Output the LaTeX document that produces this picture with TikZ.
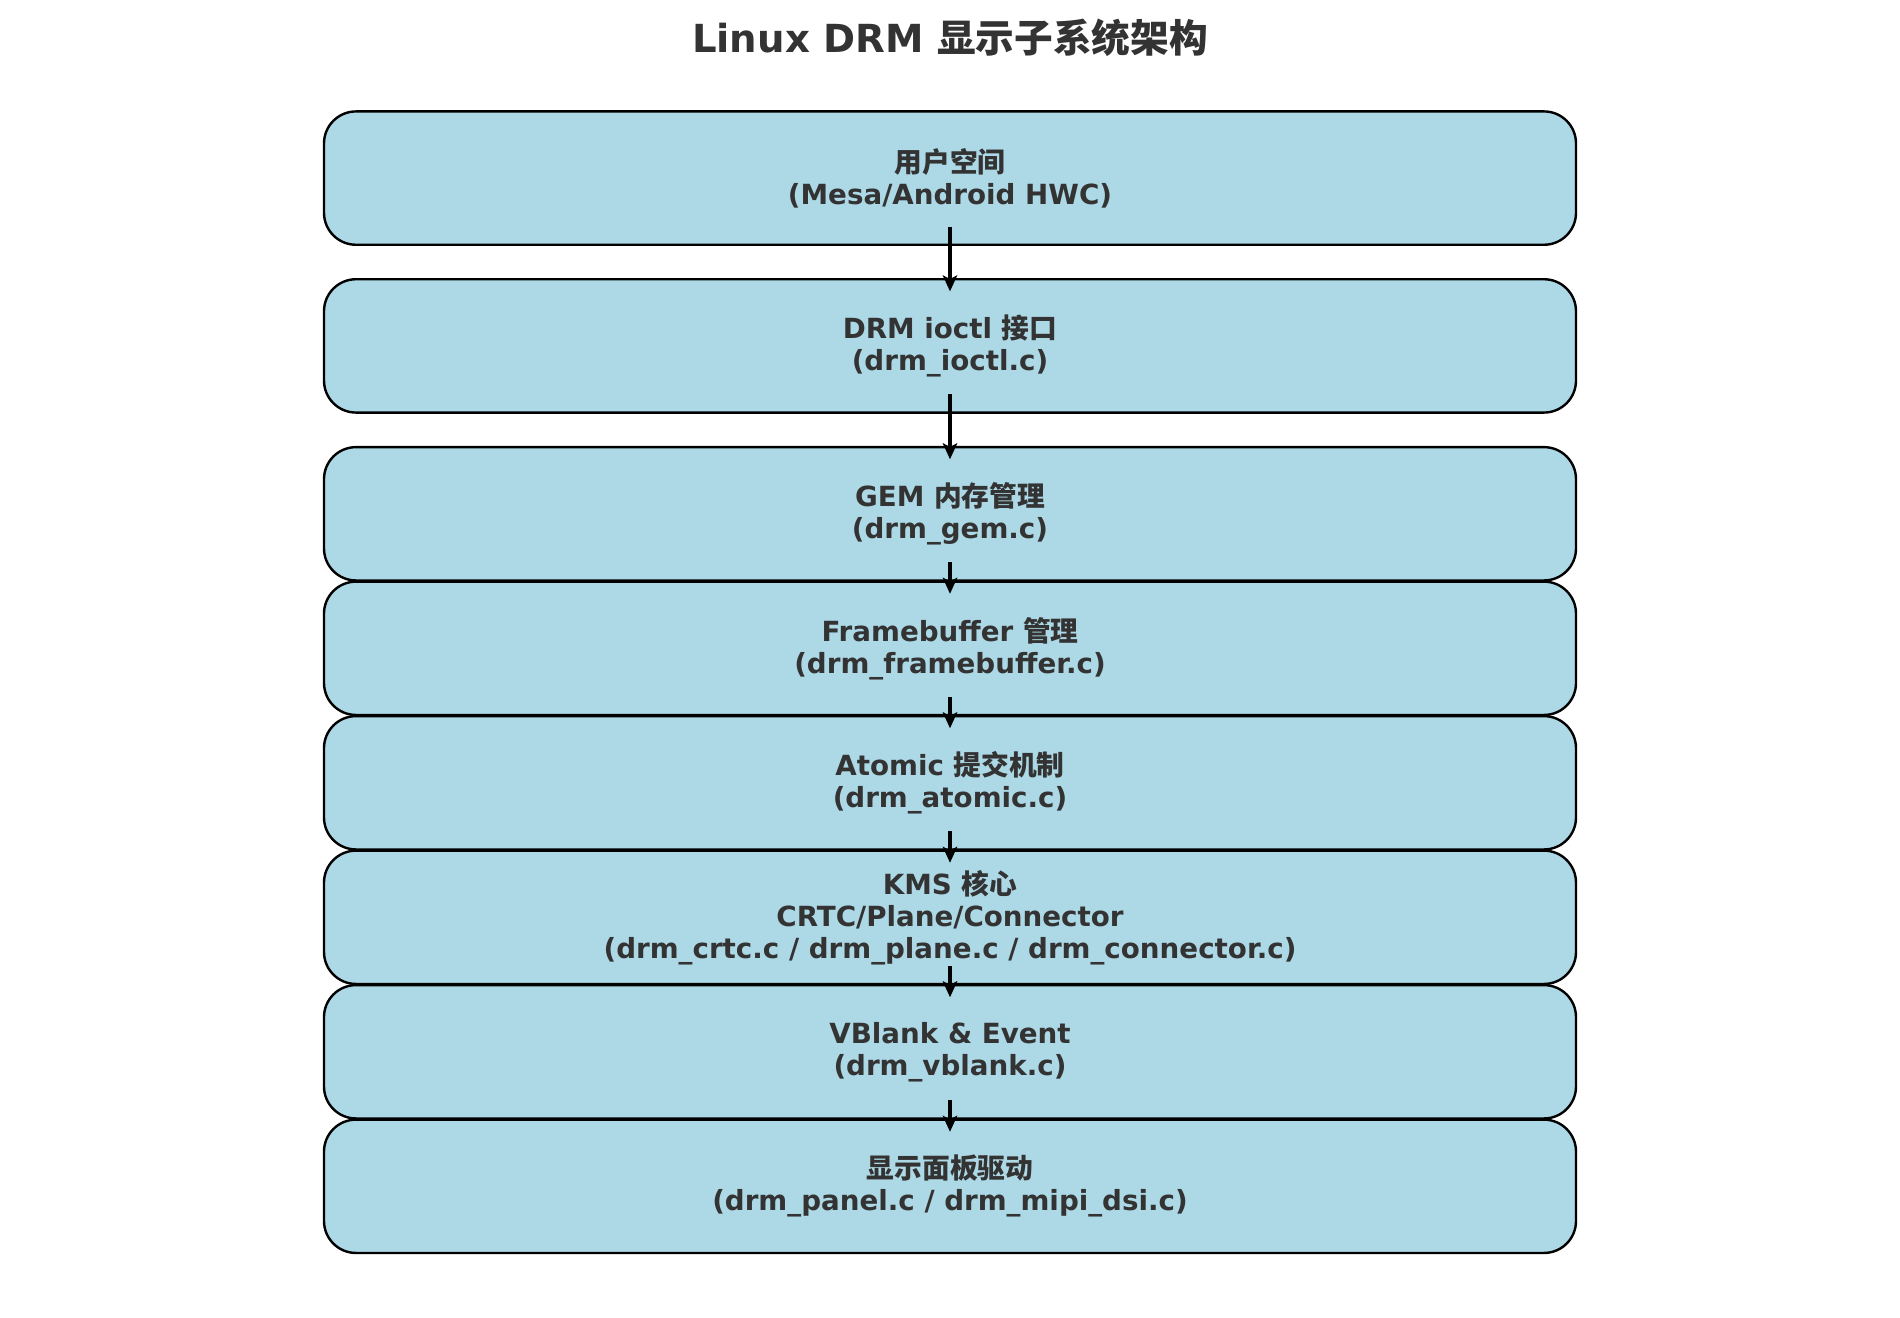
\documentclass[tikz,border=0pt]{standalone}
\usepackage{fontspec}
\setmainfont{DejaVu Sans}
\newfontfamily\cjk{Noto Sans CJK SC}
\usetikzlibrary{arrows.meta}
\definecolor{boxfill}{HTML}{ADD8E6}
\definecolor{txt}{HTML}{333333}
\newcommand{\zh}[1]{{\cjk\bfseries #1}}
\begin{document}
\begin{tikzpicture}[x=0.375pt,y=-0.375pt,
  layer/.style={draw=black, line width=0.9pt, fill=boxfill, rounded corners=12pt,
    minimum width=469.5pt, minimum height=50pt, align=center, text=txt,
    font=\bfseries\fontsize{10.4}{12}\selectfont, inner sep=0pt},
  flow/.style={-{Stealth[length=6pt,width=5.4pt,inset=1.4pt]}, line width=1.4pt, draw=black}]
\useasboundingbox (0,0) rectangle (1900,1318);
\node[font=\bfseries\fontsize{14.5}{17}\selectfont, text=txt] (title) at (950,37.6) {Linux DRM \zh{显示子系统架构}};
\node[layer] (b1) at (950,178.1) {\zh{用户空间}\\(Mesa/Android HWC)};
\node[layer] (b2) at (950,345.9) {DRM ioctl \zh{接口}\\(drm\_ioctl.c)};
\node[layer] (b3) at (950,513.8) {GEM \zh{内存管理}\\(drm\_gem.c)};
\node[layer] (b4) at (950,648.3) {Framebuffer \zh{管理}\\(drm\_framebuffer.c)};
\node[layer] (b5) at (950,782.8) {Atomic \zh{提交机制}\\(drm\_atomic.c)};
\node[layer] (b6) at (950,917.3) {KMS \zh{核心}\\CRTC/Plane/Connector\\(drm\_crtc.c / drm\_plane.c / drm\_connector.c)};
\node[layer] (b7) at (950,1051.8) {VBlank \& Event\\(drm\_vblank.c)};
\node[layer] (b8) at (950,1186.3) {\zh{显示面板驱动}\\(drm\_panel.c / drm\_mipi\_dsi.c)};
\foreach \a/\b in {b1/b2,b2/b3,b3/b4,b4/b5,b5/b6,b6/b7,b7/b8}
  \draw[flow] ([yshift=-18.2pt]\a.center) -- ([yshift=-5pt]\b.north);
\end{tikzpicture}
\end{document}
